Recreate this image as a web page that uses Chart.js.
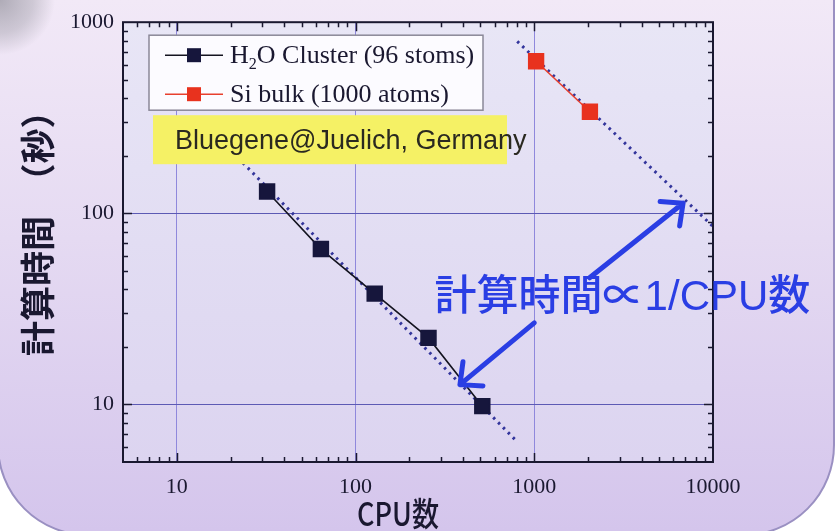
<!DOCTYPE html>
<html>
<head>
<meta charset="utf-8">
<script src="https://cdn.jsdelivr.net/npm/chart.js@4.4.1/dist/chart.umd.min.js"></script>
<style>
  html, body { margin: 0; padding: 0; background: #ffffff; overflow: hidden; }
  canvas { display: block; }
</style>
</head>
<body>
<canvas id="chart" width="836" height="531"></canvas>
<script>
// Measured wall-clock time (seconds) versus number of CPUs
const cpuH2O = [32, 64, 128, 256, 512];
const timeH2O = [130, 65, 38, 22.3, 9.8];
const cpuSi = [1024, 2048];
const timeSi = [625, 340];

// Ideal scaling guides (time ∝ 1/CPU), end points
const idealH2OCpu = [22, 800];
const idealH2OTime = [195, 6.4];
const idealSiCpu = [803, 10000];
const idealSiTime = [794, 85.4];

// Axis ranges and labelled ticks
const xRange = [5, 10000];
const yRange = [5, 1000];
const xTickValues = [10, 100, 1000, 10000];
const yTickValues = [10, 100, 1000];

// Texts
const seriesLabels = ['H₂O Cluster (96 stoms)', 'Si bulk (1000 atoms)'];
const machineNote = 'Bluegene@Juelich, Germany';
const scalingNote = '計算時間∝1/CPU数';
const xTitle = 'CPU数';
const yTitle = '計算時間　（秒）';

// Annotation anchors in data units: note position and two arrows [fromCpu, fromTime, toCpu, toTime]
const scalingNoteAt = [277, 35.7];
const arrowUp = [2040, 46, 6800, 113];
const arrowDown = [1000, 26.7, 384, 12.7];

const INK = '#1a1830';
const BLUE = '#2a3ee4';

function pts(xs, ys) { return xs.map((x, i) => ({ x: x, y: ys[i] })); }

function logSteps(min, max) {
  const out = [];
  for (let e = Math.floor(Math.log10(min)); e <= Math.ceil(Math.log10(max)); e++) {
    for (let m = 1; m <= 9; m++) {
      const v = m * Math.pow(10, e);
      if (v > min * 1.001 && v < max * 0.999) out.push({ v: v, major: m === 1 });
    }
  }
  return out;
}

function roundRectPath(ctx, x, y, w, h, r) {
  ctx.beginPath();
  ctx.moveTo(x + r, y);
  ctx.lineTo(x + w - r, y);
  ctx.arcTo(x + w, y, x + w, y + r, r);
  ctx.lineTo(x + w, y + h - r);
  ctx.arcTo(x + w, y + h, x + w - r, y + h, r);
  ctx.lineTo(x + r, y + h);
  ctx.arcTo(x, y + h, x, y + h - r, r);
  ctx.lineTo(x, y + r);
  ctx.arcTo(x, y, x + r, y, r);
  ctx.closePath();
}

function drawArrow(ctx, x1, y1, x2, y2) {
  const ang = Math.atan2(y2 - y1, x2 - x1);
  const head = 23, spread = Math.PI / 4.2;
  ctx.beginPath();
  ctx.moveTo(x1, y1);
  ctx.lineTo(x2, y2);
  ctx.moveTo(x2 - head * Math.cos(ang - spread), y2 - head * Math.sin(ang - spread));
  ctx.lineTo(x2, y2);
  ctx.lineTo(x2 - head * Math.cos(ang + spread), y2 - head * Math.sin(ang + spread));
  ctx.stroke();
}

// Text where '₂' is set as a lowered, smaller digit
function drawSubscripted(ctx, text, x, y, size, family) {
  const parts = text.split('₂');
  let cx = x;
  parts.forEach((p, i) => {
    if (i > 0) {
      ctx.font = (size * 0.62) + 'px ' + family;
      ctx.fillText('2', cx, y + size * 0.22);
      cx += ctx.measureText('2').width;
    }
    ctx.font = size + 'px ' + family;
    ctx.fillText(p, cx, y);
    cx += ctx.measureText(p).width;
  });
}

const decor = {
  id: 'decor',
  beforeDraw(chart) {
    const ctx = chart.ctx, W = chart.width, H = chart.height, a = chart.chartArea;
    ctx.save();
    ctx.fillStyle = '#ffffff';
    ctx.fillRect(0, 0, W, H);

    // rounded lavender panel, top edge out of view
    const g = ctx.createLinearGradient(0, 0, 0, H);
    g.addColorStop(0, '#f2e9f7');
    g.addColorStop(0.45, '#e5daf2');
    g.addColorStop(1, '#d4c5ec');
    roundRectPath(ctx, -2, -200, 836, 735, 90);
    ctx.fillStyle = g;
    ctx.fill();
    ctx.lineWidth = 2;
    ctx.strokeStyle = '#9a90c2';
    ctx.stroke();

    // soft grey shade in the upper-left corner
    const rg = ctx.createRadialGradient(0, 0, 0, 0, 0, 55);
    rg.addColorStop(0, 'rgba(130,130,140,0.6)');
    rg.addColorStop(0.6, 'rgba(140,140,150,0.35)');
    rg.addColorStop(1, 'rgba(140,140,150,0)');
    ctx.fillStyle = rg;
    ctx.fillRect(0, 0, 70, 70);

    // plot area
    const pg = ctx.createLinearGradient(0, a.top, 0, a.bottom);
    pg.addColorStop(0, '#e8e6f6');
    pg.addColorStop(1, '#dcd4f0');
    ctx.fillStyle = pg;
    ctx.fillRect(a.left, a.top, a.right - a.left, a.bottom - a.top);
    ctx.restore();
  },
  afterDatasetsDraw(chart) {
    const ctx = chart.ctx, a = chart.chartArea;
    const xs = chart.scales.x, ys = chart.scales.y;
    ctx.save();

    // frame
    ctx.strokeStyle = INK;
    ctx.lineWidth = 2;
    ctx.strokeRect(a.left, a.top, a.right - a.left, a.bottom - a.top);

    // inward ticks on all four sides
    ctx.lineWidth = 1.5;
    ctx.beginPath();
    logSteps(xRange[0], xRange[1]).forEach(t => {
      const px = Math.round(xs.getPixelForValue(t.v)) + 0.5;
      const len = t.major ? 9 : 5;
      ctx.moveTo(px, a.bottom); ctx.lineTo(px, a.bottom - len);
      ctx.moveTo(px, a.top); ctx.lineTo(px, a.top + len);
    });
    logSteps(yRange[0], yRange[1]).forEach(t => {
      const py = Math.round(ys.getPixelForValue(t.v)) + 0.5;
      const len = t.major ? 9 : 5;
      ctx.moveTo(a.left, py); ctx.lineTo(a.left + len, py);
      ctx.moveTo(a.right, py); ctx.lineTo(a.right - len, py);
    });
    ctx.stroke();

    // legend
    const lx = a.left + 26, ly = a.top + 13, lw = 334, lh = 75;
    ctx.fillStyle = '#fcfbff';
    ctx.fillRect(lx, ly, lw, lh);
    ctx.strokeStyle = '#8a8898';
    ctx.lineWidth = 1.5;
    ctx.strokeRect(lx, ly, lw, lh);
    chart.data.datasets.slice(0, 2).forEach((ds, i) => {
      const cy = ly + 20 + i * 39;
      ctx.strokeStyle = ds.borderColor;
      ctx.lineWidth = 1.6;
      ctx.beginPath();
      ctx.moveTo(lx + 16, cy); ctx.lineTo(lx + 74, cy);
      ctx.stroke();
      ctx.fillStyle = ds.pointBackgroundColor;
      ctx.fillRect(lx + 45 - 7, cy - 7, 14, 14);
      ctx.fillStyle = INK;
      ctx.textBaseline = 'alphabetic';
      ctx.textAlign = 'left';
      drawSubscripted(ctx, ds.label, lx + 81, cy + 8, 26, '"Liberation Serif", serif');
    });

    // machine note on yellow
    const bx = a.left + 30, by = a.top + 93;
    ctx.fillStyle = '#f5f165';
    ctx.fillRect(bx, by, 354, 49);
    ctx.fillStyle = '#2a2920';
    ctx.font = '27px "Liberation Sans", Arial, sans-serif';
    ctx.textBaseline = 'middle';
    ctx.fillText(machineNote, bx + 22, by + 26);

    // scaling note and arrows
    ctx.fillStyle = BLUE;
    ctx.font = '500 42px "Liberation Sans", "Noto Sans CJK JP", sans-serif';
    ctx.textBaseline = 'middle';
    ctx.fillText(scalingNote, xs.getPixelForValue(scalingNoteAt[0]), ys.getPixelForValue(scalingNoteAt[1]));
    ctx.strokeStyle = BLUE;
    ctx.lineWidth = 5;
    ctx.lineCap = 'round';
    ctx.lineJoin = 'round';
    [arrowUp, arrowDown].forEach(ar => {
      drawArrow(ctx,
        xs.getPixelForValue(ar[0]), ys.getPixelForValue(ar[1]),
        xs.getPixelForValue(ar[2]), ys.getPixelForValue(ar[3]));
    });

    // axis titles
    ctx.fillStyle = INK;
    ctx.font = '500 33px "Noto Sans CJK JP", sans-serif';
    ctx.textAlign = 'center';
    ctx.textBaseline = 'middle';
    ctx.save();
    ctx.translate(398, 513);
    ctx.scale(0.82, 1);
    ctx.fillText(xTitle, 0, 0);
    ctx.restore();

    ctx.save();
    ctx.translate(38, 356);
    ctx.rotate(-Math.PI / 2);
    ctx.font = 'bold 35px "Noto Sans CJK JP", sans-serif';
    ctx.textAlign = 'left';
    ctx.fillText(yTitle, 0, 0);
    ctx.restore();

    ctx.restore();
  }
};

const tickFont = { family: '"Liberation Serif", "Times New Roman", serif', size: 22 };

new Chart(document.getElementById('chart'), {
  type: 'scatter',
  data: {
    datasets: [
      {
        label: seriesLabels[0],
        data: pts(cpuH2O, timeH2O),
        showLine: true,
        borderColor: '#141420',
        borderWidth: 1.6,
        pointStyle: 'rect',
        pointRadius: 10.5,
        pointBackgroundColor: '#16163c',
        pointBorderColor: '#16163c',
        order: 1
      },
      {
        label: seriesLabels[1],
        data: pts(cpuSi, timeSi),
        showLine: true,
        borderColor: '#e8402e',
        borderWidth: 1.5,
        pointStyle: 'rect',
        pointRadius: 10.5,
        pointBackgroundColor: '#e8321e',
        pointBorderColor: '#e8321e',
        order: 1
      },
      {
        label: 'ideal-h2o',
        data: pts(idealH2OCpu, idealH2OTime),
        showLine: true,
        borderColor: '#33359c',
        borderWidth: 3,
        borderDash: [2.5, 4.5],
        pointRadius: 0,
        order: 2
      },
      {
        label: 'ideal-si',
        data: pts(idealSiCpu, idealSiTime),
        showLine: true,
        borderColor: '#33359c',
        borderWidth: 3,
        borderDash: [2.5, 4.5],
        pointRadius: 0,
        order: 2
      }
    ]
  },
  options: {
    responsive: false,
    devicePixelRatio: 1,
    animation: false,
    events: [],
    layout: { padding: { top: 22, right: 123, bottom: 0, left: 0 } },
    plugins: { legend: { display: false }, tooltip: { enabled: false } },
    scales: {
      x: {
        type: 'logarithmic',
        min: xRange[0],
        max: xRange[1],
        afterFit(s) { s.height = 69; },
        afterBuildTicks(s) { s.ticks = xTickValues.map(v => ({ value: v })); },
        border: { display: false },
        grid: {
          drawTicks: false,
          color: c => (c.tick && c.tick.value < xRange[1]) ? '#8f88dc' : 'rgba(0,0,0,0)',
          lineWidth: 1
        },
        ticks: {
          callback: v => String(v),
          font: tickFont,
          color: INK,
          padding: 12,
          maxRotation: 0,
          autoSkip: false
        }
      },
      y: {
        type: 'logarithmic',
        min: yRange[0],
        max: yRange[1],
        afterFit(s) { s.width = 123; },
        afterBuildTicks(s) { s.ticks = yTickValues.map(v => ({ value: v })); },
        border: { display: false },
        grid: {
          drawTicks: false,
          color: c => (c.tick && c.tick.value < yRange[1]) ? '#5c5ab4' : 'rgba(0,0,0,0)',
          lineWidth: 1
        },
        ticks: {
          callback: v => String(v),
          font: tickFont,
          color: INK,
          padding: 9,
          autoSkip: false
        }
      }
    }
  },
  plugins: [decor]
});
</script>
</body>
</html>
